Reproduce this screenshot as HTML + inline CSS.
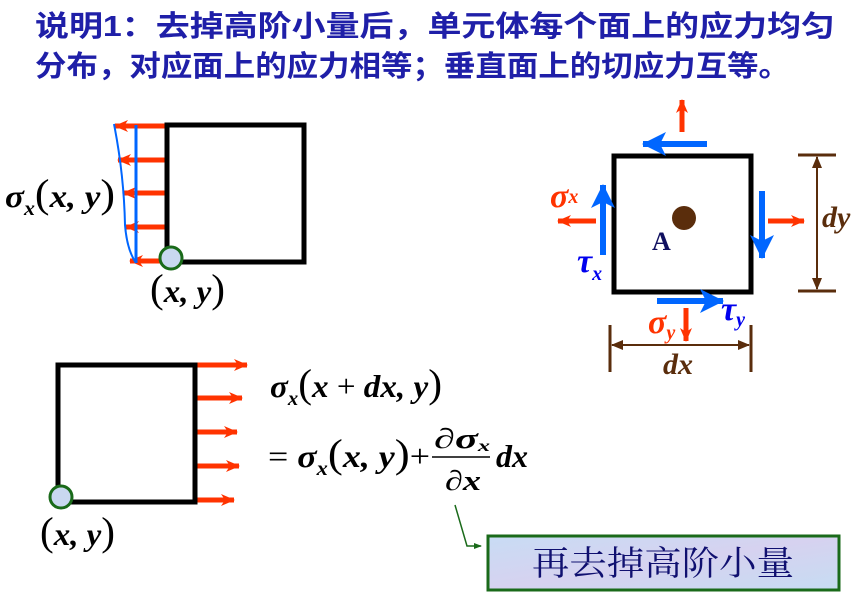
<!DOCTYPE html>
<html><head><meta charset="utf-8"><style>
html,body{margin:0;padding:0;background:#fff;width:868px;height:593px;overflow:hidden}
svg{display:block}
.m{font-family:"Liberation Serif",serif;font-style:italic;font-weight:bold}
.p{font-style:normal;font-weight:normal}
</style></head><body>
<svg width="868" height="593" viewBox="0 0 868 593" xmlns="http://www.w3.org/2000/svg">
<defs>
<marker id="ar" markerWidth="14" markerHeight="12" refX="13" refY="6" orient="auto" markerUnits="userSpaceOnUse"><path d="M0,0 L14,6 L0,12 L4,6 Z" fill="#ff3300"/></marker>
<marker id="ab" markerWidth="24" markerHeight="24" refX="23" refY="12" orient="auto" markerUnits="userSpaceOnUse"><path d="M0,0 L24,12 L0,24 L6,12 Z" fill="#0066ff"/></marker>
<marker id="abr" markerWidth="12" markerHeight="10" refX="11" refY="5" orient="auto" markerUnits="userSpaceOnUse"><path d="M0,0 L12,5 L0,10 Z" fill="#5a2d0c"/></marker>
<marker id="ag" markerWidth="8" markerHeight="8" refX="7" refY="4" orient="auto" markerUnits="userSpaceOnUse"><path d="M0,1 L8,4 L0,7 Z" fill="#1a6a1a"/></marker>
<linearGradient id="bg" x1="0" y1="0" x2="1" y2="1"><stop offset="0" stop-color="#c8dcf4"/><stop offset="0.5" stop-color="#d6d2f0"/><stop offset="1" stop-color="#c6dcf2"/></linearGradient>
</defs>
<g font-family="'Liberation Sans','Noto Sans CJK SC',sans-serif" font-weight="bold" font-size="29" fill="#1f1fa8">
<text x="35" y="36" textLength="800" lengthAdjust="spacingAndGlyphs">说明1：去掉高阶小量后，单元体每个面上的应力均匀</text>
<text x="35" y="76" textLength="755" lengthAdjust="spacingAndGlyphs">分布，对应面上的应力相等；垂直面上的切应力互等。</text>
</g>
<!-- top-left -->
<g stroke="#ff3300" stroke-width="5" marker-end="url(#ar)">
<line x1="167" y1="126" x2="115" y2="126"/><line x1="167" y1="160" x2="118" y2="160"/><line x1="167" y1="193" x2="123" y2="193"/><line x1="167" y1="227" x2="126" y2="227"/><line x1="167" y1="261" x2="130" y2="261"/>
</g>
<line x1="136" y1="125" x2="136" y2="263" stroke="#0066ff" stroke-width="3"/>
<path d="M114,124 Q124,175 125,225 Q127,250 136,263" fill="none" stroke="#0066ff" stroke-width="2"/>
<rect x="167" y="125" width="137" height="137" fill="none" stroke="#000" stroke-width="5"/>
<circle cx="171" cy="258" r="11" fill="#c9d8f0" stroke="#1a6a1a" stroke-width="3"/>
<text class="m" x="5" y="207" font-size="32" textLength="110" lengthAdjust="spacingAndGlyphs">σ<tspan font-size="20" dy="8">x</tspan><tspan dy="-8" font-size="40" class="p">(</tspan>x, y<tspan font-size="40" class="p">)</tspan></text>
<text class="m" x="150" y="302" font-size="32" textLength="75" lengthAdjust="spacingAndGlyphs"><tspan font-size="40" class="p">(</tspan>x, y<tspan font-size="40" class="p">)</tspan></text>
<!-- bottom-left -->
<g stroke="#ff3300" stroke-width="5" marker-end="url(#ar)">
<line x1="195" y1="365" x2="247" y2="365"/><line x1="195" y1="398" x2="242" y2="398"/><line x1="195" y1="432" x2="237" y2="432"/><line x1="195" y1="466" x2="239" y2="466"/><line x1="195" y1="500" x2="234" y2="500"/>
</g>
<rect x="58" y="365" width="137" height="137" fill="none" stroke="#000" stroke-width="5"/>
<circle cx="61" cy="497" r="11" fill="#c9d8f0" stroke="#1a6a1a" stroke-width="3"/>
<text class="m" x="40" y="545" font-size="32" textLength="75" lengthAdjust="spacingAndGlyphs"><tspan font-size="40" class="p">(</tspan>x, y<tspan font-size="40" class="p">)</tspan></text>
<text class="m" x="270" y="397" font-size="32" textLength="172" lengthAdjust="spacingAndGlyphs">σ<tspan font-size="20" dy="8">x</tspan><tspan dy="-8" font-size="40" class="p">(</tspan>x<tspan class="p"> + </tspan>dx, y<tspan font-size="40" class="p">)</tspan></text>
<text class="m" x="268" y="467" font-size="32" textLength="162" lengthAdjust="spacingAndGlyphs"><tspan class="p">= </tspan>σ<tspan font-size="20" dy="8">x</tspan><tspan dy="-8" font-size="40" class="p">(</tspan>x, y<tspan font-size="40" class="p">)</tspan><tspan class="p">+</tspan></text>
<text class="m" x="434" y="448" font-size="28" textLength="56" lengthAdjust="spacingAndGlyphs">∂σ<tspan font-size="16" dy="3">x</tspan></text>
<line x1="432" y1="457" x2="490" y2="457" stroke="#000" stroke-width="1.5"/>
<text class="m" x="445" y="490" font-size="28" textLength="36" lengthAdjust="spacingAndGlyphs">∂x</text>
<text class="m" x="496" y="467" font-size="32" textLength="32" lengthAdjust="spacingAndGlyphs">dx</text>
<polyline points="455,505 467,546 481,546" fill="none" stroke="#1a6a1a" stroke-width="1.5" marker-end="url(#ag)"/>
<rect x="488" y="536" width="351" height="54" fill="url(#bg)" stroke="#1a6a1a" stroke-width="3"/>
<text x="663" y="575" text-anchor="middle" font-family="'Liberation Serif','Noto Serif CJK SC',serif" font-size="34" fill="#101070" textLength="262" lengthAdjust="spacingAndGlyphs">再去掉高阶小量</text>
<!-- right -->
<rect x="614" y="156" width="137" height="136" fill="none" stroke="#000" stroke-width="5"/>
<circle cx="684" cy="218" r="12" fill="#5a2d0c"/>
<text x="652" y="250" font-family="'Liberation Serif',serif" font-weight="bold" font-size="26" fill="#101060">A</text>
<g stroke="#ff3300" stroke-width="5" marker-end="url(#ar)">
<line x1="682" y1="132" x2="682" y2="100"/><line x1="596" y1="221" x2="558" y2="221"/><line x1="768" y1="221" x2="804" y2="221"/><line x1="686" y1="308" x2="686" y2="341"/>
</g>
<g stroke="#0066ff" stroke-width="6" marker-end="url(#ab)">
<line x1="707" y1="144" x2="643" y2="144"/><line x1="603" y1="255" x2="603" y2="185"/><line x1="762" y1="191" x2="762" y2="258"/><line x1="657" y1="301" x2="723" y2="301"/>
</g>
<text class="m" x="550" y="207" font-size="34" fill="#ff3300">σ<tspan font-size="20" dy="-4">x</tspan></text>
<text class="m" x="577" y="272" font-size="34" fill="#0000ee">τ<tspan font-size="20" dy="8">x</tspan></text>
<text class="m" x="648" y="333" font-size="34" fill="#ff3300">σ<tspan font-size="20" dy="6">y</tspan></text>
<text class="m" x="721" y="320" font-size="34" fill="#0000ee">τ<tspan font-size="20" dy="6">y</tspan></text>
<g stroke="#5a2d0c" stroke-width="3">
<line x1="798" y1="155" x2="836" y2="155"/><line x1="798" y1="291" x2="836" y2="291"/>
<line x1="610" y1="325" x2="610" y2="372"/><line x1="751" y1="325" x2="751" y2="372"/>
</g>
<g stroke="#5a2d0c" stroke-width="2">
<line x1="817" y1="220" x2="817" y2="157" marker-end="url(#abr)"/><line x1="817" y1="220" x2="817" y2="289" marker-end="url(#abr)"/>
<line x1="680" y1="345" x2="612" y2="345" marker-end="url(#abr)"/><line x1="680" y1="345" x2="749" y2="345" marker-end="url(#abr)"/>
</g>
<text class="m" x="822" y="227" font-size="30" fill="#5a2d0c">dy</text>
<text class="m" x="663" y="374" font-size="30" fill="#5a2d0c">dx</text>
</svg>
</body></html>
